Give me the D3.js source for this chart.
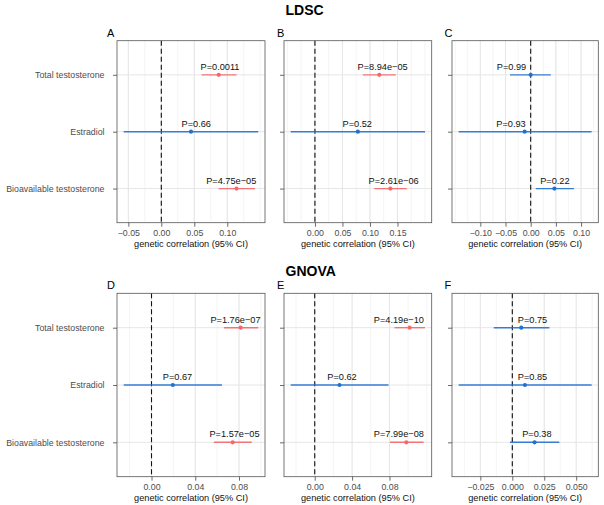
<!DOCTYPE html>
<html>
<head>
	<meta charset="utf-8">
	<title>Genetic correlation forest plots</title>
	<script type="text/javascript" src="https://cdnjs.cloudflare.com/ajax/libs/d3/7.8.5/d3.min.js"></script>
	<style>
		body { margin: 0; background: #fff; }
		text { font-family: "Liberation Sans", Arial, sans-serif; }
	</style>
</head>
<body>
<svg id="chart" width="604" height="505"></svg>
<script type="text/javascript">
	// data
	var traits = ["Total testosterone", "Estradiol", "Bioavailable testosterone"];
	var methods = ["LDSC", "GNOVA"];
	var letters = ["A", "B", "C", "D", "E", "F"];

	// LDSC  (lab = where the repelled P label sits, in correlation units)
	var estA = [0.087, 0.045, 0.114];
	var lowA = [0.061, -0.057, 0.087];
	var highA = [0.114, 0.147, 0.142];
	var pA = ["0.0011", "0.66", "4.75e-05"];
	var labA = [0.089, 0.053, 0.106];
	var ticksA = [-0.05, 0, 0.05, 0.10];

	var estB = [0.117, 0.078, 0.137];
	var lowB = [0.087, -0.044, 0.108];
	var highB = [0.147, 0.200, 0.167];
	var pB = ["8.94e-05", "0.52", "2.61e-06"];
	var labB = [0.123, 0.077, 0.143];
	var ticksB = [0, 0.05, 0.10, 0.15];

	var estC = [0.000, -0.012, 0.047];
	var lowC = [-0.041, -0.143, 0.010];
	var highC = [0.040, 0.121, 0.086];
	var pC = ["0.99", "0.93", "0.22"];
	var labC = [-0.038, -0.039, 0.048];
	var ticksC = [-0.10, -0.05, 0, 0.05, 0.10];

	// GNOVA
	var estD = [0.0815, 0.0195, 0.0742];
	var lowD = [0.0662, -0.0254, 0.0570];
	var highD = [0.0976, 0.0644, 0.0916];
	var pD = ["1.76e-07", "0.67", "1.57e-05"];
	var labD = [0.0768, 0.0238, 0.0759];
	var ticksD = [0, 0.04, 0.08];

	var estE = [0.1015, 0.0265, 0.0980];
	var lowE = [0.0854, -0.0257, 0.0805];
	var highE = [0.1180, 0.0790, 0.1165];
	var pE = ["4.19e-10", "0.62", "7.99e-08"];
	var labE = [0.0900, 0.0292, 0.0900];
	var ticksE = [0, 0.04, 0.08];

	var estF = [0.0070, 0.0099, 0.0174];
	var lowF = [-0.0145, -0.0420, -0.0018];
	var highF = [0.0290, 0.0621, 0.0368];
	var pF = ["0.75", "0.85", "0.38"];
	var labF = [0.0158, 0.0158, 0.0192];
	var ticksF = [-0.025, 0, 0.025, 0.05];

	var panels = [
		{est: estA, low: lowA, high: highA, p: pA, lab: labA, ticks: ticksA},
		{est: estB, low: lowB, high: highB, p: pB, lab: labB, ticks: ticksB},
		{est: estC, low: lowC, high: highC, p: pC, lab: labC, ticks: ticksC},
		{est: estD, low: lowD, high: highD, p: pD, lab: labD, ticks: ticksD},
		{est: estE, low: lowE, high: highE, p: pE, lab: labE, ticks: ticksE},
		{est: estF, low: lowF, high: highF, p: pF, lab: labF, ticks: ticksF}
	];

	var svg = d3.select("#chart");

	// layout
	var cols = [[117, 265], [284, 431.7], [452, 598.3]];
	var rows = [[40.7, 222.7], [293.3, 476.7]];
	var red = "#F4676A";
	var blue = "#2171D0";
	var minus = function(s) { return s.replace(/-/g, "\u2212"); };

	// minor breaks like ggplot: midpoints, extended one step past the majors
	function minorBreaks(b, dom) {
		var step = b[1] - b[0];
		var ext = b.slice();
		if (dom[0] < ext[0]) ext.unshift(ext[0] - step);
		if (dom[1] > ext[ext.length - 1]) ext.push(ext[ext.length - 1] + step);
		var out = [];
		for (var i = 0; i < ext.length; i++) {
			out.push(ext[i]);
			if (i < ext.length - 1) out.push((ext[i] + ext[i + 1]) / 2);
		}
		return out.filter(function(v) { return v >= dom[0] && v <= dom[1]; });
	}

	// decimals needed so every tick prints exactly (0.025 -> 3)
	function decimals(ticks) {
		return d3.max(ticks, function(v) {
			var s = String(Math.abs(v));
			return s.indexOf(".") < 0 ? 0 : s.length - s.indexOf(".") - 1;
		});
	}

	// method titles
	methods.forEach(function(m, r) {
		svg.append("text")
			.attr("x", 285.5)
			.attr("y", r == 0 ? 14.5 : 275.5)
			.attr("font-size", 14)
			.attr("font-weight", "bold")
			.text(m);
	});

	panels.forEach(function(pn, i) {
		var c = i % 3, r = Math.floor(i / 3);
		var x0 = cols[c][0], x1 = cols[c][1];
		var y0 = rows[r][0], y1 = rows[r][1];

		var lo = d3.min(pn.low), hi = d3.max(pn.high);
		var pad = (hi - lo) * 0.05;
		var x = d3.scaleLinear().domain([lo - pad, hi + pad]).range([x0, x1]);
		var y = d3.scalePoint().domain(traits).range([y0, y1]).padding(0.6);

		var g = svg.append("g");

		// panel letter
		svg.append("text")
			.attr("x", c == 0 ? 107 : (c == 1 ? 277 : 444.5))
			.attr("y", y0 - 4)
			.attr("font-size", 11)
			.text(letters[i]);

		g.append("rect")
			.attr("x", x0).attr("y", y0)
			.attr("width", x1 - x0).attr("height", y1 - y0)
			.attr("fill", "white");

		// grid
		g.selectAll(".minor")
			.data(minorBreaks(pn.ticks, x.domain()))
			.enter().append("line")
			.attr("x1", function(d) { return x(d); })
			.attr("x2", function(d) { return x(d); })
			.attr("y1", y0).attr("y2", y1)
			.attr("stroke", "#EDEDED")
			.attr("stroke-width", 0.6);
		g.selectAll(".major")
			.data(pn.ticks)
			.enter().append("line")
			.attr("x1", function(d) { return x(d); })
			.attr("x2", function(d) { return x(d); })
			.attr("y1", y0).attr("y2", y1)
			.attr("stroke", "#E6E6E6")
			.attr("stroke-width", 1);
		g.selectAll(".hgrid")
			.data(traits)
			.enter().append("line")
			.attr("x1", x0).attr("x2", x1)
			.attr("y1", function(d) { return y(d); })
			.attr("y2", function(d) { return y(d); })
			.attr("stroke", "#E6E6E6")
			.attr("stroke-width", 1);

		// zero line
		g.append("line")
			.attr("x1", x(0)).attr("x2", x(0))
			.attr("y1", y0).attr("y2", y1)
			.attr("stroke", "#111")
			.attr("stroke-width", 1.1)
			.attr("stroke-dasharray", "5,3");

		var rowsData = traits.map(function(t, k) {
			var pv = pn.p[k];
			return {trait: t, est: pn.est[k], low: pn.low[k], high: pn.high[k],
				lab: pn.lab[k], p: pv, sig: +pv < 0.05};
		});

		// confidence intervals
		g.selectAll(".ci")
			.data(rowsData)
			.enter().append("line")
			.attr("x1", function(d) { return x(d.low); })
			.attr("x2", function(d) { return x(d.high); })
			.attr("y1", function(d) { return y(d.trait); })
			.attr("y2", function(d) { return y(d.trait); })
			.attr("stroke", function(d) { return d.sig ? red : blue; })
			.attr("stroke-opacity", 0.9)
			.attr("stroke-width", 1.4);

		g.selectAll(".pt")
			.data(rowsData)
			.enter().append("circle")
			.attr("cx", function(d) { return x(d.est); })
			.attr("cy", function(d) { return y(d.trait); })
			.attr("r", 2.1)
			.attr("fill", function(d) { return d.sig ? red : blue; });

		g.selectAll(".plab")
			.data(rowsData)
			.enter().append("text")
			.attr("x", function(d) { return x(d.lab); })
			.attr("y", function(d) { return y(d.trait) - 5; })
			.attr("text-anchor", "middle")
			.attr("font-size", 9.2)
			.attr("fill", "#111")
			.text(function(d) { return "P=" + minus(d.p); });

		// border
		g.append("rect")
			.attr("x", x0).attr("y", y0)
			.attr("width", x1 - x0).attr("height", y1 - y0)
			.attr("fill", "none")
			.attr("stroke", "#555")
			.attr("stroke-width", 0.8);

		// axes
		var fmt = d3.format("." + decimals(pn.ticks) + "f");
		var xAxis = g.append("g")
			.attr("transform", "translate(0," + y1 + ")")
			.call(d3.axisBottom(x).tickValues(pn.ticks).tickFormat(fmt).tickSize(4).tickPadding(3.5));
		var yAxis = g.append("g")
			.attr("transform", "translate(" + x0 + ",0)")
			.call(d3.axisLeft(y).tickSize(4).tickPadding(8.5).tickFormat(c == 0 ? null : ""));
		[xAxis, yAxis].forEach(function(a) {
			a.select(".domain").remove();
			a.selectAll("line").attr("stroke", "#444").attr("stroke-width", 0.8);
			a.selectAll("text")
				.attr("font-family", "Liberation Sans, Arial, sans-serif")
				.attr("font-size", 8.8)
				.attr("fill", "#4D4D4D");
		});

		g.append("text")
			.attr("x", (x0 + x1) / 2)
			.attr("y", y1 + 24)
			.attr("text-anchor", "middle")
			.attr("font-size", 9.2)
			.attr("fill", "#111")
			.text("genetic correlation (95% CI)");
	});
</script>
</body>
</html>
